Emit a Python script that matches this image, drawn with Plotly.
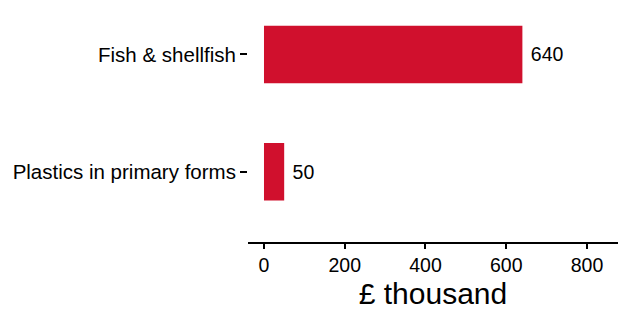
import plotly.graph_objects as go

categories = ["Plastics in primary forms", "Fish & shellfish"]
values = [50, 640]
x_ticks = [0, 200, 400, 600, 800]
x_title = "£ thousand"

fig = go.Figure(go.Bar(
    y=categories, x=values, orientation="h",
    marker=dict(color="#D0102D", line=dict(width=0)),
    width=0.49,
    text=[f"\u00a0{v}" for v in values],
    textposition="outside",
    textfont=dict(family="Liberation Sans, Arial", size=19.5, color="black"),
    cliponaxis=False,
))

fig.update_layout(
    width=620, height=310,
    margin=dict(l=248, r=2, t=0, b=68, autoexpand=False),
    paper_bgcolor="white", plot_bgcolor="white",
    showlegend=False,
    font=dict(family="Liberation Sans, Arial", color="black"),
    xaxis=dict(
        range=[-39.6, 876.8], tickvals=x_ticks, ticks="outside", ticklen=5,
        tickwidth=2, tickcolor="black", showline=True, linewidth=2,
        linecolor="black", showgrid=False, zeroline=False,
        tickfont=dict(size=19.5, color="black"),
        title=dict(text=x_title, font=dict(size=30, color="black"), standoff=9),
        automargin=False,
    ),
    yaxis=dict(
        type="category", categoryorder="array", categoryarray=categories,
        range=[-0.6, 1.464], ticks="outside", ticklen=7, tickwidth=2,
        tickcolor="black", showline=False, showgrid=False, zeroline=False,
        tickfont=dict(size=20.5, color="black"),
        automargin=False,
    ),
)

fig.write_html(
    "out.html",
    config={"displayModeBar": False},
    post_script="document.body.style.margin='0';document.body.style.overflow='hidden';",
)
